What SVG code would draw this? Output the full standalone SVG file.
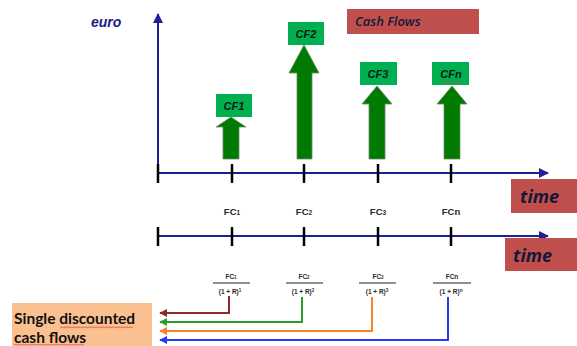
<svg xmlns="http://www.w3.org/2000/svg" width="577" height="346" viewBox="0 0 577 346">
  <style>
    .axis { stroke: #1f1f96; stroke-width: 2; fill: none; }
    .tick { stroke: #000; stroke-width: 2.5; }
    .cfbox { fill: #00b050; }
    .cflbl { font-family: "Liberation Sans", Arial, sans-serif; font-size: 11px; font-weight: bold; font-style: italic; fill: #0d1a10; text-anchor: middle; }
    .bigarrow { fill: #007a00; stroke: #6d8a6d; stroke-width: 0.8; }
    .redbox { fill: #c0504d; }
    .navy { font-family: "Open Sans", "Liberation Sans", sans-serif; font-style: italic; fill: #111838; }
    .fc { font-family: "Liberation Sans", Arial, sans-serif; font-size: 9.5px; font-weight: bold; fill: #2a2a2a; text-anchor: middle; }
    .frac { font-family: "Liberation Sans", Arial, sans-serif; font-size: 6.5px; font-weight: bold; fill: #2a2a2a; text-anchor: middle; }
    .fracline { stroke: #222; stroke-width: 1.2; }
    .conn { fill: none; stroke-width: 2; }
  </style>
  <defs>
    <marker id="navyHead" viewBox="0 0 10 10" refX="9" refY="5" markerWidth="5" markerHeight="5" orient="auto-start-reverse">
      <path d="M0,0 L10,5 L0,10 z" fill="#1f1f96"/>
    </marker>
    <marker id="headRed" viewBox="0 0 10 10" refX="9" refY="5" markerWidth="4" markerHeight="4" orient="auto">
      <path d="M0,0 L10,5 L0,10 z" fill="#8e2a2a"/>
    </marker>
    <marker id="headGreen" viewBox="0 0 10 10" refX="9" refY="5" markerWidth="4" markerHeight="4" orient="auto">
      <path d="M0,0 L10,5 L0,10 z" fill="#2e9a2e"/>
    </marker>
    <marker id="headOrange" viewBox="0 0 10 10" refX="9" refY="5" markerWidth="4" markerHeight="4" orient="auto">
      <path d="M0,0 L10,5 L0,10 z" fill="#f5842a"/>
    </marker>
    <marker id="headBlue" viewBox="0 0 10 10" refX="9" refY="5" markerWidth="4" markerHeight="4" orient="auto">
      <path d="M0,0 L10,5 L0,10 z" fill="#2a3cf0"/>
    </marker>
    <pattern id="wave" width="3" height="2.4" patternUnits="userSpaceOnUse">
      <path d="M0,2 L1.5,0.4 L3,2" fill="none" stroke="#e03030" stroke-width="0.7"/>
    </pattern>
  </defs>

  <!-- axes -->
  <g id="axes">
    <line class="axis" x1="158" y1="172" x2="158" y2="14" marker-end="url(#navyHead)"/>
    <text x="91" y="27" font-family="Liberation Sans, Arial, sans-serif" font-size="14" font-weight="bold" font-style="italic" fill="#1a1a88">euro</text>
    <line class="axis" x1="158" y1="173" x2="548" y2="173" marker-end="url(#navyHead)"/>
    <line class="axis" x1="158" y1="236" x2="548" y2="236" marker-end="url(#navyHead)"/>
    <line class="tick" x1="158" y1="164" x2="158" y2="183"/>
    <line class="tick" x1="232" y1="164" x2="232" y2="183"/>
    <line class="tick" x1="304" y1="164" x2="304" y2="183"/>
    <line class="tick" x1="378" y1="164" x2="378" y2="183"/>
    <line class="tick" x1="451" y1="164" x2="451" y2="183"/>
    <line class="tick" x1="158" y1="227" x2="158" y2="246"/>
    <line class="tick" x1="232" y1="227" x2="232" y2="246"/>
    <line class="tick" x1="304" y1="227" x2="304" y2="246"/>
    <line class="tick" x1="378" y1="227" x2="378" y2="246"/>
    <line class="tick" x1="451" y1="227" x2="451" y2="246"/>
  </g>

  <!-- cash flow arrows with labels -->
  <g id="cf1">
    <path class="bigarrow" d="M231,117 L246,127 L239,127 L239,159 L223,159 L223,127 L216,127 z"/>
    <rect class="cfbox" x="216" y="94" width="36" height="23"/>
    <text class="cflbl" x="234" y="110">CF1</text>
  </g>
  <g id="cf2">
    <path class="bigarrow" d="M304,45 L319,73 L312,73 L312,159 L297,159 L297,73 L289,73 z"/>
    <rect class="cfbox" x="288" y="22" width="36" height="23"/>
    <text class="cflbl" x="306" y="38">CF2</text>
  </g>
  <g id="cf3">
    <path class="bigarrow" d="M377,86 L392,104 L385,104 L385,159 L369,159 L369,104 L362,104 z"/>
    <rect class="cfbox" x="360" y="62" width="37" height="23"/>
    <text class="cflbl" x="378" y="78">CF3</text>
  </g>
  <g id="cfn">
    <path class="bigarrow" d="M452,86 L467,104 L460,104 L460,159 L444,159 L444,104 L437,104 z"/>
    <rect class="cfbox" x="432" y="62" width="37" height="23"/>
    <text class="cflbl" x="451" y="78">CFn</text>
    <rect x="442" y="81" width="19" height="2.4" fill="url(#wave)"/>
  </g>

  <!-- title and axis labels -->
  <g id="title">
    <rect class="redbox" x="347" y="9" width="132" height="25"/>
    <text class="navy" x="355" y="26" font-size="13" font-weight="600">Cash Flows</text>
    <rect x="356" y="28" width="62" height="2.4" fill="url(#wave)"/>
  </g>
  <g id="time-top">
    <rect class="redbox" x="511" y="179" width="66" height="34"/>
    <text class="navy" x="520" y="203" font-size="18" font-weight="bold">time</text>
    <rect x="521" y="205" width="39" height="2.4" fill="url(#wave)"/>
  </g>
  <g id="time-bottom">
    <rect class="redbox" x="505" y="238" width="72" height="33"/>
    <text class="navy" x="513" y="262" font-size="18" font-weight="bold">time</text>
    <rect x="514" y="264" width="39" height="2.4" fill="url(#wave)"/>
  </g>

  <!-- cash flow labels on the lower time line -->
  <g id="fc-labels">
    <text class="fc" x="232" y="215">FC<tspan font-size="6.5">1</tspan></text>
    <text class="fc" x="304" y="215">FC<tspan font-size="6.5">2</tspan></text>
    <text class="fc" x="378" y="215">FC<tspan font-size="6.5">3</tspan></text>
    <text class="fc" x="451" y="215">FCn</text>
  </g>

  <!-- discounted fractions -->
  <g id="frac1">
    <text class="frac" x="231" y="279">FC<tspan font-size="4.5">1</tspan></text>
    <line class="fracline" x1="213" y1="283" x2="250" y2="283"/>
    <text class="frac" x="230" y="294">(1 + R)<tspan font-size="4.5" dy="-2">1</tspan></text>
  </g>
  <g id="frac2">
    <text class="frac" x="304" y="279">FC<tspan font-size="4.5">2</tspan></text>
    <line class="fracline" x1="286" y1="283" x2="323" y2="283"/>
    <text class="frac" x="303" y="294">(1 + R)<tspan font-size="4.5" dy="-2">2</tspan></text>
  </g>
  <g id="frac3">
    <text class="frac" x="378" y="279">FC<tspan font-size="4.5">3</tspan></text>
    <line class="fracline" x1="359" y1="283" x2="396" y2="283"/>
    <text class="frac" x="377" y="294">(1 + R)<tspan font-size="4.5" dy="-2">3</tspan></text>
  </g>
  <g id="fracn">
    <text class="frac" x="452" y="279">FCn</text>
    <line class="fracline" x1="433" y1="283" x2="471" y2="283"/>
    <text class="frac" x="451" y="294">(1 + R)<tspan font-size="4.5" dy="-2">n</tspan></text>
  </g>

  <!-- result box -->
  <g id="single-discounted">
    <rect x="12" y="303" width="140" height="43" fill="#fac090"/>
    <text x="14" y="324" font-family="Lato, 'Liberation Sans', sans-serif" font-size="15.5" font-weight="bold" fill="#111">Single discounted</text>
    <text x="14" y="343" font-family="Lato, 'Liberation Sans', sans-serif" font-size="15.5" font-weight="bold" fill="#111">cash flows</text>
    <rect x="60" y="326" width="73" height="2.4" fill="url(#wave)"/>
    <rect x="14" y="344" width="70" height="2" fill="url(#wave)"/>
  </g>

  <!-- discounting connectors -->
  <g id="connectors">
    <polyline class="conn" stroke="#8e2a2a" points="229,296 229,313 160,313" marker-end="url(#headRed)"/>
    <polyline class="conn" stroke="#2e9a2e" points="302,297 302,322 160,322" marker-end="url(#headGreen)"/>
    <polyline class="conn" stroke="#f5842a" points="372,297 372,331 160,331" marker-end="url(#headOrange)"/>
    <polyline class="conn" stroke="#2a3cf0" points="448,297 448,340 160,340" marker-end="url(#headBlue)"/>
  </g>
</svg>
